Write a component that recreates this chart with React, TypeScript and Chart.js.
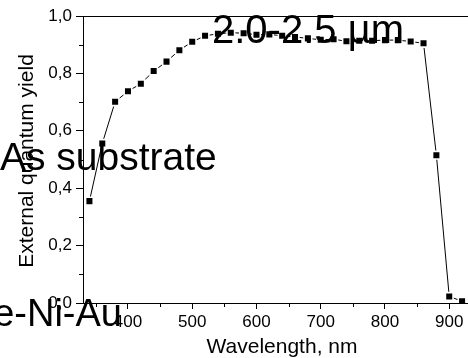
import React, { useEffect, useRef } from 'react';
import { Chart, registerables } from 'chart.js';

Chart.register(...registerables);

const wavelengths = [340, 360, 380, 400, 420, 440, 460, 480, 500, 520, 540, 560, 580, 600, 620, 640, 660, 680, 700, 720, 740, 760, 780, 800, 820, 840, 860, 880, 900, 920];
const yieldValues = [0.355, 0.556, 0.701, 0.738, 0.764, 0.808, 0.841, 0.881, 0.91, 0.931, 0.938, 0.942, 0.94, 0.935, 0.936, 0.931, 0.927, 0.922, 0.917, 0.919, 0.912, 0.914, 0.914, 0.916, 0.916, 0.911, 0.905, 0.515, 0.023, 0.006];
const xMajorTicks = [400, 500, 600, 700, 800, 900];
const xMinorTicks = [350, 450, 550, 650, 750, 850];
const yMajorTicks = [0, 0.2, 0.4, 0.6, 0.8, 1.0];
const yMinorTicks = [0.1, 0.3, 0.5, 0.7, 0.9];
const xTitle = 'Wavelength, nm';
const yTitle = 'External quantum yield';
const bandLabel = '2.0-2.5 µm';
const substrateLabel = 'As substrate';
const contactLabel = 'e-Ni-Au';

const FONT = 'Arial, "Liberation Sans", sans-serif';

const decorPlugin = {
  id: 'decor',
  afterDraw(chart: any) {
    const { ctx, chartArea: a, scales } = chart;
    const xs = scales.x;
    const ys = scales.y;
    ctx.save();
    ctx.strokeStyle = '#000';
    ctx.lineWidth = 1;
    // frame (top & right)
    ctx.beginPath();
    ctx.moveTo(Math.round(a.left), Math.round(a.top) + 0.5);
    ctx.lineTo(Math.round(a.right) + 0.5, Math.round(a.top) + 0.5);
    ctx.lineTo(Math.round(a.right) + 0.5, Math.round(a.bottom));
    ctx.stroke();
    // minor ticks
    ctx.beginPath();
    xMinorTicks.forEach((v) => {
      const px = Math.round(xs.getPixelForValue(v)) + 0.5;
      ctx.moveTo(px, a.bottom);
      ctx.lineTo(px, a.bottom + 4);
    });
    yMinorTicks.forEach((v) => {
      const py = Math.round(ys.getPixelForValue(v)) + 0.5;
      ctx.moveTo(a.left, py);
      ctx.lineTo(a.left - 4, py);
    });
    ctx.stroke();
    // axis titles
    ctx.fillStyle = '#000';
    ctx.font = `21px ${FONT}`;
    ctx.textAlign = 'center';
    ctx.textBaseline = 'alphabetic';
    ctx.fillText(xTitle, 282, 353);
    ctx.save();
    ctx.translate(33, 161);
    ctx.rotate(-Math.PI / 2);
    ctx.fillText(yTitle, 0, 0);
    ctx.restore();
    // overlay labels
    ctx.textAlign = 'left';
    ctx.font = `40px ${FONT}`;
    ctx.fillText(bandLabel, 212, 43);
    ctx.font = `39px ${FONT}`;
    ctx.fillText(substrateLabel, 0, 170);
    ctx.textAlign = 'right';
    ctx.font = `38px ${FONT}`;
    ctx.fillText(contactLabel, 122, 326);
    ctx.restore();
  },
};

export default function App() {
  const ref = useRef<HTMLCanvasElement | null>(null);

  useEffect(() => {
    document.body.style.margin = '0';
    if (!ref.current) return;
    const chart = new Chart(ref.current, {
      type: 'line',
      data: {
        datasets: [
          {
            data: wavelengths.map((w, i) => ({ x: w, y: yieldValues[i] })),
            borderColor: '#000',
            backgroundColor: '#000',
            borderWidth: 1,
            pointStyle: 'rect',
            pointRadius: 5.4,
            pointBorderWidth: 1.6,
            pointBorderColor: '#fff',
            pointBackgroundColor: '#000',
            tension: 0,
          },
        ],
      },
      options: {
        animation: false,
        responsive: false,
        layout: { padding: { top: 16, left: 0, right: 7, bottom: 0 } },
        plugins: { legend: { display: false }, tooltip: { enabled: false } },
        scales: {
          x: {
            type: 'linear',
            min: 330,
            max: 937,
            afterBuildTicks: (s: any) => {
              s.ticks = xMajorTicks.map((v) => ({ value: v }));
            },
            afterFit: (s: any) => {
              s.height = 55;
            },
            ticks: {
              color: '#000',
              font: { family: FONT, size: 17 },
              padding: 3,
              maxRotation: 0,
              autoSkip: false,
              callback: (v: any) => String(v),
            },
            grid: { drawOnChartArea: false, color: '#000', tickLength: 6, tickWidth: 1 },
            border: { color: '#000', width: 1 },
          },
          y: {
            type: 'linear',
            min: 0,
            max: 1,
            afterBuildTicks: (s: any) => {
              s.ticks = yMajorTicks.map((v) => ({ value: v }));
            },
            afterFit: (s: any) => {
              s.width = 83;
            },
            ticks: {
              color: '#000',
              font: { family: FONT, size: 17 },
              padding: 4,
              autoSkip: false,
              callback: (v: any) => Number(v).toFixed(1).replace('.', ','),
            },
            grid: { drawOnChartArea: false, color: '#000', tickLength: 7, tickWidth: 1 },
            border: { color: '#000', width: 1 },
          },
        },
      },
      plugins: [decorPlugin],
    });
    return () => chart.destroy();
  }, []);

  return (
    <div style={{ position: 'absolute', left: 0, top: 0, width: 468, height: 358, overflow: 'hidden', background: '#fff' }}>
      <canvas ref={ref} width={480} height={358} style={{ width: 480, height: 358, display: 'block' }} />
    </div>
  );
}
